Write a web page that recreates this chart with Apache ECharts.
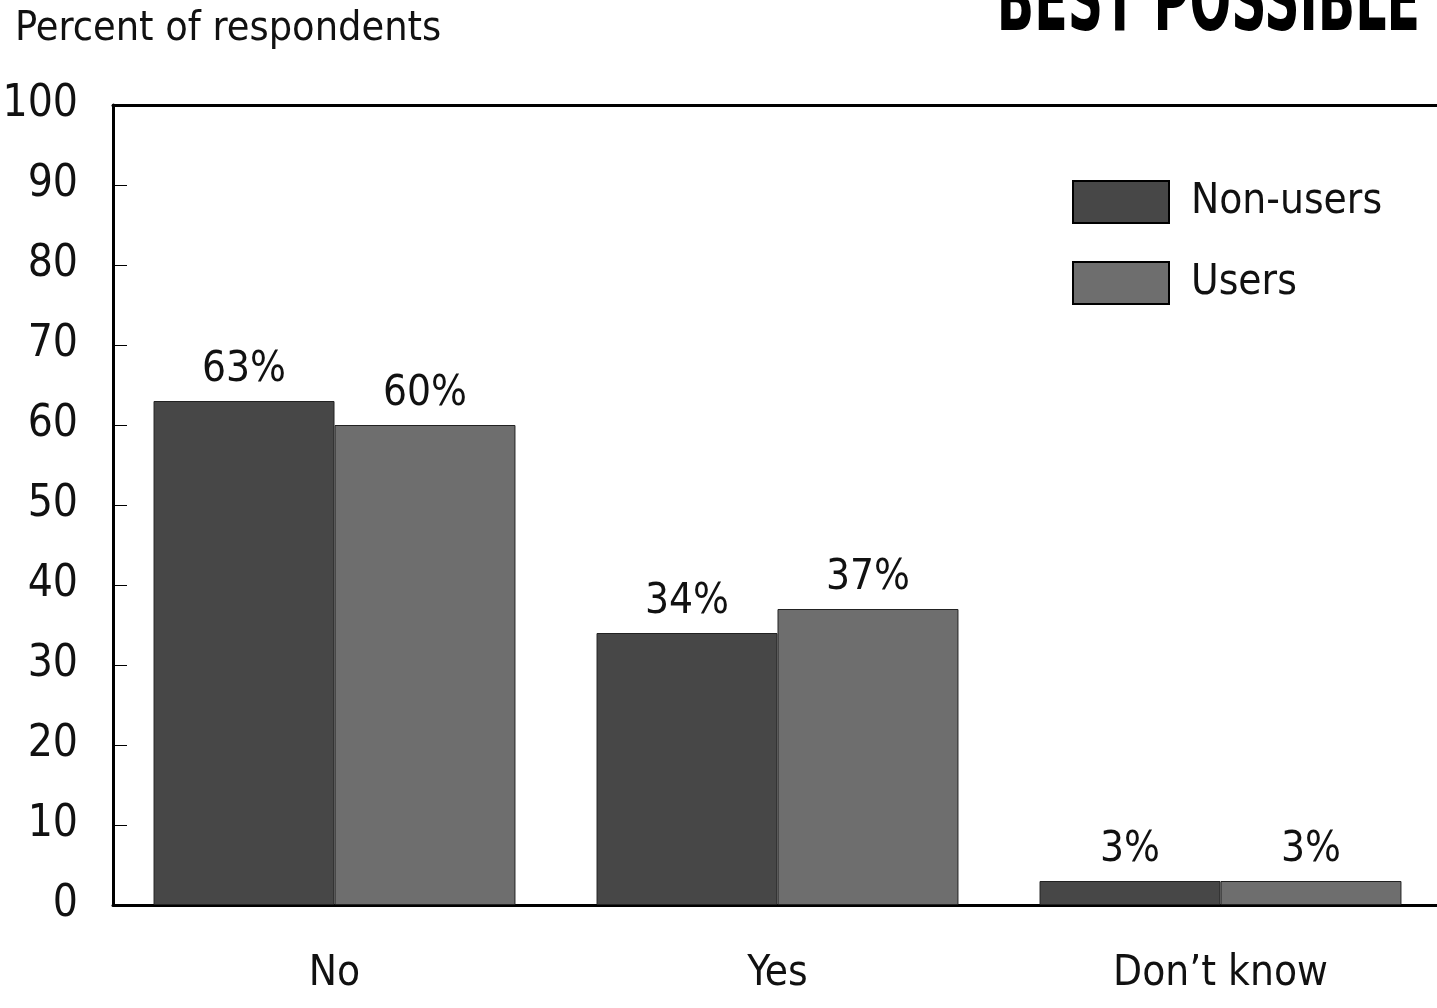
<!DOCTYPE html>
<html><head><meta charset="utf-8">
<script src="https://cdn.jsdelivr.net/npm/echarts@6/dist/echarts.min.js"></script>
<style>html,body{margin:0;padding:0;background:#fff}#c{width:1437px;height:1008px}</style>
</head><body><div id="c"></div>
<script>
const categories = ['No', 'Yes', 'Don\u2019t know'];
const nonUsers = [63, 34, 3];
const users = [60, 37, 3];
const seriesNames = ['Non-users', 'Users'];
const yTicks = [0, 10, 20, 30, 40, 50, 60, 70, 80, 90, 100];

const FONT = "'Liberation Sans Narrow', 'DejaVu Sans Condensed', 'Liberation Sans', sans-serif";
const chart = echarts.init(document.getElementById('c'));
const lbl = {show: true, position: 'top', distance: 10, formatter: p => p.value + '%', fontFamily: FONT, fontSize: 42, color: '#111'};
chart.setOption({
  animation: false,
  backgroundColor: '#fff',
  grid: {left: 113, right: -5, top: 105, bottom: 103, containLabel: false, outerBoundsMode: 'none'},
  legend: {
    left: 1067, top: 175, orient: 'vertical', itemWidth: 96, itemHeight: 42, itemGap: 37,
    icon: 'rect',
    itemStyle: {borderColor: '#000', borderWidth: 2},
    textStyle: {fontFamily: FONT, fontSize: 42, color: '#111', padding: [0, 0, 0, 17]},
    data: seriesNames
  },
  xAxis: [{
    type: 'category', data: categories,
    axisLine: {lineStyle: {color: '#000', width: 3}},
    axisTick: {show: false},
    axisLabel: {fontFamily: FONT, fontSize: 42, color: '#111', margin: 48}
  }, {
    type: 'category', data: categories, position: 'top',
    axisLine: {lineStyle: {color: '#000', width: 3}},
    axisTick: {show: false}, axisLabel: {show: false}
  }],
  yAxis: {
    type: 'value', min: yTicks[0], max: yTicks[yTicks.length - 1], interval: 10,
    axisLine: {show: true, lineStyle: {color: '#000', width: 3}},
    axisTick: {show: true, inside: true, length: 14, lineStyle: {color: '#000', width: 1}},
    splitLine: {show: false},
    axisLabel: {fontFamily: FONT, fontSize: 44, color: '#111', margin: 35}
  },
  graphic: [
    {type: 'text', left: 15, top: 9, style: {text: 'Percent of respondents', font: '41px ' + FONT, fill: '#111'}},
    {type: 'text', x: 1420, y: 51, scaleX: 0.62, style: {text: 'BEST POSSIBLE', font: 'bold 88px ' + FONT, fill: '#000', textAlign: 'right', textVerticalAlign: 'bottom'}}
  ],
  series: [
    {name: seriesNames[0], type: 'bar', data: nonUsers, barGap: '0%', barCategoryGap: '18.3%',
      itemStyle: {color: '#474747', borderColor: '#222', borderWidth: 1}, label: lbl},
    {name: seriesNames[1], type: 'bar', data: users,
      itemStyle: {color: '#6e6e6e', borderColor: '#222', borderWidth: 1}, label: lbl}
  ]
});
</script></body></html>
